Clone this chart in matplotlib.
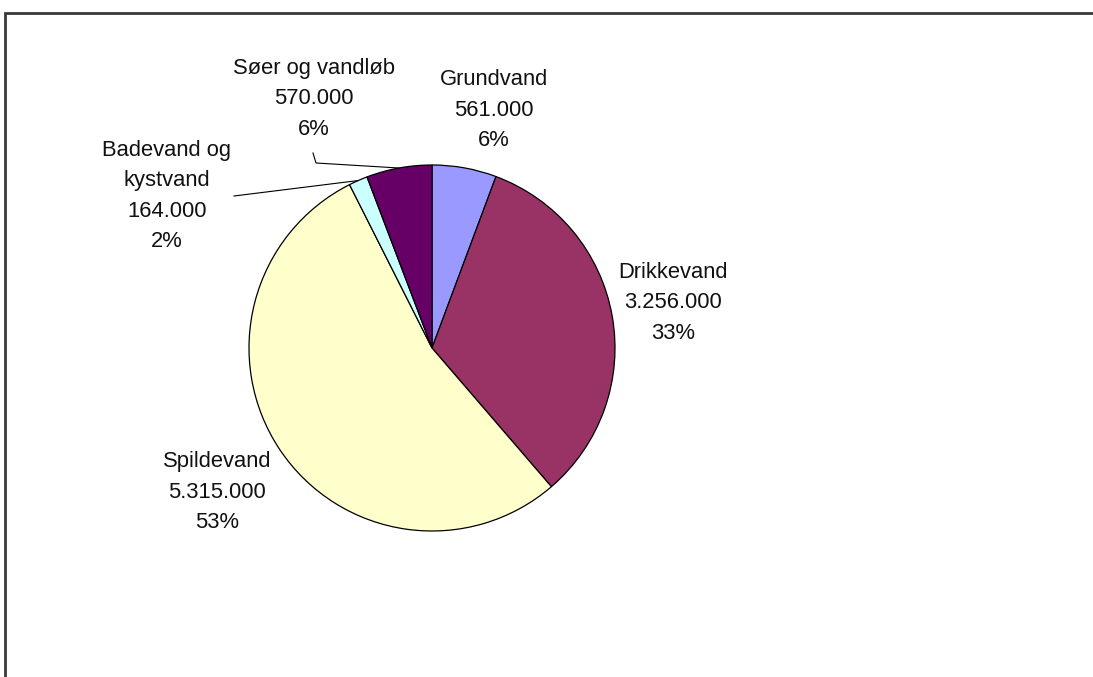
import numpy as np
import matplotlib.pyplot as plt
from matplotlib.patches import Rectangle

# Data
labels = ["Grundvand", "Drikkevand", "Spildevand", "Badevand og\nkystvand", "Søer og vandløb"]
values = [561000, 3256000, 5315000, 164000, 570000]
percents = ["6%", "33%", "53%", "2%", "6%"]
colors = ["#9999FF", "#993366", "#FFFFCC", "#CCFFFF", "#660066"]

W, H = 1093, 677
plt.rcParams['font.family'] = ['Liberation Sans', 'DejaVu Sans']

fig = plt.figure(figsize=(W / 100, H / 100), dpi=100)
ax = fig.add_axes([0, 0, 1, 1])

# pixel helper (y from top)
def P(x, y):
    return x, H - y

cx, cy = P(432, 348)
r = 183
wedges, _ = ax.pie(values, colors=colors, startangle=90, counterclock=False,
                   center=(cx, cy), radius=r, frame=True,
                   wedgeprops=dict(edgecolor='black', linewidth=0.9))
ax.set_xlim(0, W)
ax.set_ylim(0, H)
ax.set_aspect('equal')
ax.axis('off')

def fmt(v):
    return f"{v:,}".replace(",", ".")

# label centres (pixels)
label_pos = [(494, 110), (673, 303), (217, 492), (167, 196), (314, 99)]
for lab, v, pct, (x, y) in zip(labels, values, percents, label_pos):
    txt = f"{lab}\n{fmt(v)}\n{pct}"
    ax.text(*P(x, y), txt, ha='center', va='center', fontsize=15.8,
            linespacing=1.6, color='#111111')

# leader lines for small slices
def arc_mid(w):
    a = np.deg2rad((w.theta1 + w.theta2) / 2)
    return cx + r * np.cos(a), cy + r * np.sin(a)

ex, ey = arc_mid(wedges[4])
sx, sy = P(313, 153)
kx, ky = P(316, 163)
ax.plot([sx, kx, ex], [sy, ky, ey], color='black', lw=0.8)

ex, ey = arc_mid(wedges[3])
bx, by = P(234, 196)
ax.plot([bx, ex], [by, ey], color='black', lw=0.8)

# outer frame
fig.add_artist(Rectangle((5 / W, -0.1), 1.2, 1 - 13 / H + 0.1, transform=fig.transFigure,
                         fill=False, edgecolor='#3a3a3a', linewidth=2))

fig.savefig("out.png", dpi=100, facecolor='white')
